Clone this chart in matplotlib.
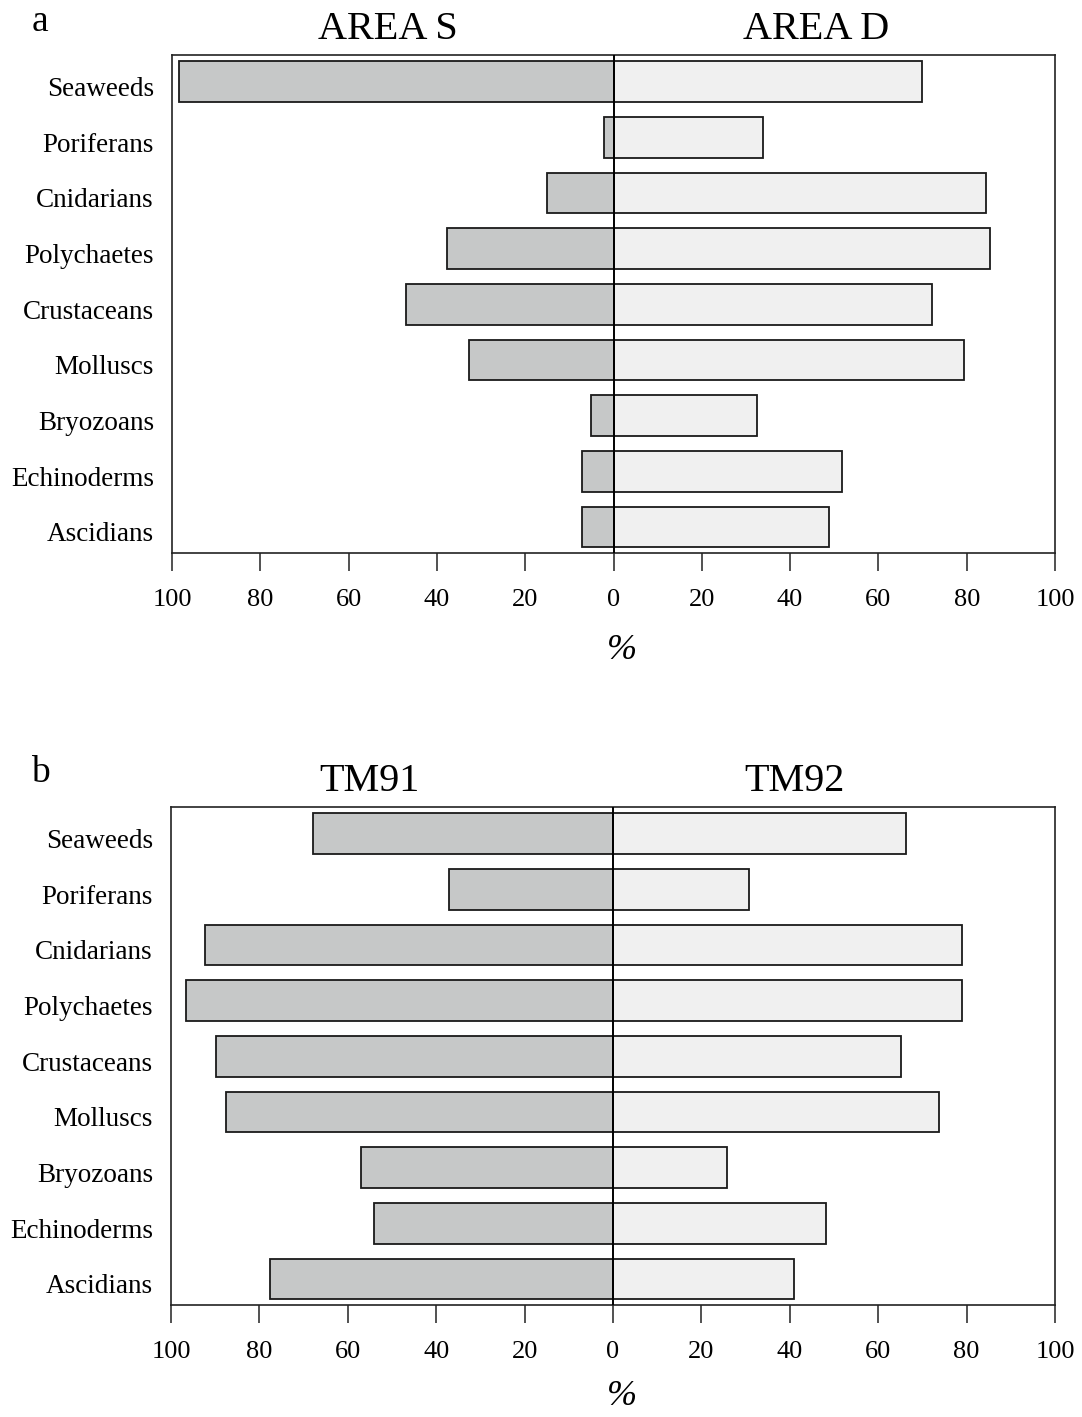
import matplotlib
matplotlib.use("Agg")
import matplotlib.pyplot as plt
import matplotlib.transforms as mtransforms
import numpy as np

categories = ["Seaweeds", "Poriferans", "Cnidarians", "Polychaetes", "Crustaceans",
              "Molluscs", "Bryozoans", "Echinoderms", "Ascidians"]

area_s = [98.5, 2.2, 15.0, 37.7, 47.0, 32.8, 5.1, 7.2, 7.2]
area_d = [69.9, 33.9, 84.4, 85.2, 72.2, 79.5, 32.4, 51.7, 48.7]

tm91 = [67.8, 37.1, 92.4, 96.7, 89.8, 87.5, 57.1, 54.1, 77.5]
tm92 = [66.2, 30.8, 79.0, 79.0, 65.1, 73.8, 25.7, 48.2, 40.9]

tick_vals = [-100, -80, -60, -40, -20, 0, 20, 40, 60, 80, 100]
tick_labels = ["100", "80", "60", "40", "20", "0", "20", "40", "60", "80", "100"]

plt.rcParams['font.family'] = ['Liberation Serif', 'DejaVu Serif']

W, H = 1082, 1417
fig = plt.figure(figsize=(W / 100, H / 100), dpi=100)

LEFT_COLOR = "#c6c8c8"
RIGHT_COLOR = "#f0f0f0"


def panel(rect, left_vals, right_vals, left_title, right_title, lt_x, rt_x,
          letter, letter_y, pct_y):
    ax = fig.add_axes(rect)
    y = np.arange(len(categories))
    ax.barh(y, [-v for v in left_vals], height=0.73, color=LEFT_COLOR,
            edgecolor="#1a1a1a", linewidth=1.3, zorder=2)
    ax.barh(y, right_vals, height=0.73, color=RIGHT_COLOR,
            edgecolor="#1a1a1a", linewidth=1.3, zorder=2)
    ax.axvline(0, color="black", linewidth=1.4, zorder=3)
    ax.set_xlim(-100, 100)
    ax.set_ylim(8.47, -0.48)
    ax.set_yticks(y)
    ax.set_yticklabels(categories, fontsize=19.5)
    ax.tick_params(axis="y", length=0, pad=13)
    shift = mtransforms.ScaledTranslation(0, -5 / 100, fig.dpi_scale_trans)
    for lab in ax.get_yticklabels():
        lab.set_transform(lab.get_transform() + shift)
    ax.set_xticks(tick_vals)
    ax.set_xticklabels(tick_labels, fontsize=19)
    ax.tick_params(axis="x", direction="out", length=13, width=1.1, pad=13,
                   color="#222222")
    for s in ax.spines.values():
        s.set_linewidth(1.2)
        s.set_color("#222222")
    ax.text(0.51, pct_y, "%", transform=ax.transAxes, ha="center", va="center",
            fontsize=26, style="italic")
    ax.text(lt_x, 1.052, left_title, transform=ax.get_xaxis_transform(),
            ha="center", va="center", fontsize=29)
    ax.text(rt_x, 1.052, right_title, transform=ax.get_xaxis_transform(),
            ha="center", va="center", fontsize=29)
    fig.text(40 / W, 1 - letter_y / H, letter, ha="center", va="center", fontsize=27)
    return ax


panel([172 / W, 1 - 553 / H, 883 / W, 498 / H], area_s, area_d,
      "AREA S", "AREA D", -51, 46, "a", 22, -0.195)
panel([171 / W, 1 - 1305 / H, 884 / W, 498 / H], tm91, tm92,
      "TM91", "TM92", -55, 41, "b", 773, -0.183)

fig.savefig("out.png", dpi=100, facecolor="white")
